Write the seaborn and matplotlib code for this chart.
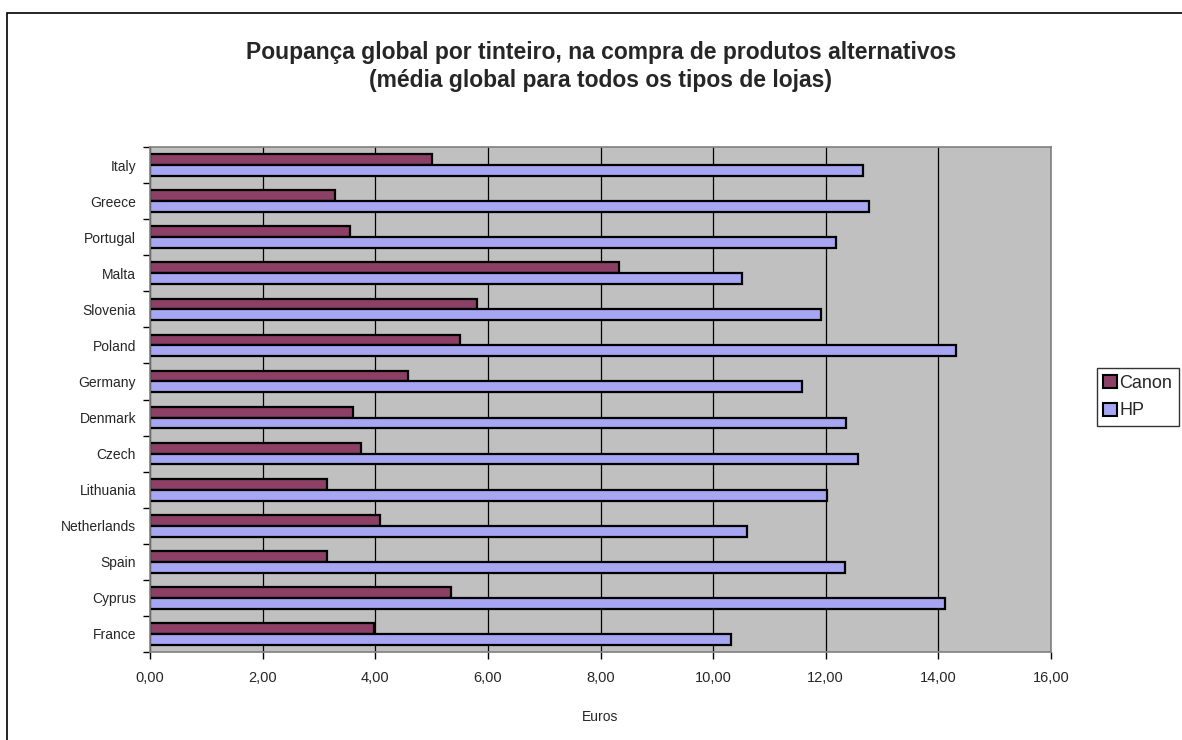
import matplotlib
matplotlib.use("Agg")
import matplotlib.pyplot as plt
import matplotlib.ticker as mticker
import pandas as pd
import seaborn as sns

# Data (top to bottom)
countries = ['Italy', 'Greece', 'Portugal', 'Malta', 'Slovenia', 'Poland', 'Germany',
             'Denmark', 'Czech', 'Lithuania', 'Netherlands', 'Spain', 'Cyprus', 'France']
canon = [5.00, 3.28, 3.56, 8.33, 5.80, 5.50, 4.58, 3.61, 3.74, 3.15, 4.08, 3.15, 5.34, 3.98]
hp = [12.67, 12.77, 12.19, 10.51, 11.91, 14.32, 11.58, 12.36, 12.58, 12.02, 10.61, 12.35, 14.11, 10.31]
brands = ['Canon', 'HP']
colors = ['#993366', '#9999FF']

df = pd.DataFrame({'country': countries * 2,
                   'brand': ['Canon'] * len(countries) + ['HP'] * len(countries),
                   'value': canon + hp})

sns.set_style("white")
plt.rcParams['font.family'] = ['Liberation Sans', 'DejaVu Sans']

fig = plt.figure(figsize=(11.82, 7.40), dpi=100)
ax = fig.add_axes([150 / 1182, 88 / 740, 901 / 1182, 505 / 740])

sns.barplot(data=df, y='country', x='value', hue='brand', hue_order=brands,
            order=countries, palette=colors, orient='h', width=0.6,
            edgecolor='black', linewidth=1.6, ax=ax, legend=True)

ax.set_facecolor('#C0C0C0')
ax.set_xlim(0, 16)
ax.set_ylim(len(countries) - 0.5, -0.5)
ax.xaxis.set_major_locator(mticker.MultipleLocator(2))
ax.xaxis.set_major_formatter(mticker.FuncFormatter(lambda v, p: f'{v:.2f}'.replace('.', ',')))
ax.grid(axis='x', color='black', linewidth=0.9)
ax.set_axisbelow(True)

# category boundary ticks on the y axis
ax.set_yticks([i + 0.5 for i in range(-1, len(countries))], minor=True)
ax.tick_params(axis='y', which='major', length=0, pad=10, labelsize=10)
ax.tick_params(axis='y', which='minor', length=5, width=1, color='black', direction='out', left=True)
ax.tick_params(axis='x', which='major', length=5, width=1, color='black', direction='out',
               bottom=True, pad=9, labelsize=10.5)

for s in ['top', 'right', 'left', 'bottom']:
    ax.spines[s].set_color('#808080')
    ax.spines[s].set_linewidth(1.2)

ax.set_ylabel('')
ax.set_xlabel('Euros', fontsize=10, labelpad=18)

leg = ax.legend(loc='center left', bbox_to_anchor=(1097 / 1182, 1 - 397 / 740),
                bbox_transform=fig.transFigure, frameon=True, fancybox=False,
                fontsize=13, handlelength=0.75, handleheight=0.75, handletextpad=0.15,
                borderpad=0.35, labelspacing=0.6, borderaxespad=0)
leg.get_frame().set_edgecolor('black')
leg.get_frame().set_linewidth(1)
for h in leg.legend_handles:
    h.set_edgecolor('black')
    h.set_linewidth(1.5)

fig.text(0.5 * (232 + 970) / 1182, 1 - 53 / 740,
         'Poupança global por tinteiro, na compra de produtos alternativos',
         ha='center', va='center', fontsize=16.5, fontweight='bold')
fig.text(0.5 * (232 + 970) / 1182, 1 - 81 / 740,
         '(média global para todos os tipos de lojas)',
         ha='center', va='center', fontsize=16.5, fontweight='bold')

# outer chart border (cropped on the right and bottom)
fig.add_artist(plt.Rectangle((7 / 1182, -0.1), 1.2, 1 - 13 / 740 + 0.1,
                             transform=fig.transFigure, fill=False,
                             edgecolor='black', linewidth=1.2))

fig.savefig('out.png', dpi=100)
